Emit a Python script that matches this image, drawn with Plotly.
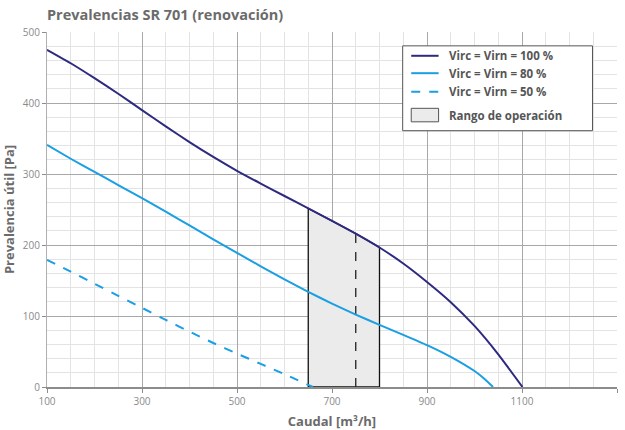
import plotly.graph_objects as go

# Fan curves: airflow [m3/h] vs available pressure [Pa]
q_100 = [100, 150, 200, 250, 300, 350, 400, 450, 500, 550, 600, 650, 700, 750, 800, 850, 900, 950, 1000, 1050, 1101]
p_100 = [475, 456, 435, 413, 390, 367, 345, 324, 304.5, 286.5, 269, 251.5, 234, 216, 196.5, 174, 148, 119.5, 86, 46, 0]

q_80 = [100, 150, 200, 250, 300, 350, 400, 450, 500, 550, 600, 650, 700, 750, 800, 850, 900, 950, 1000, 1020, 1039]
p_80 = [341, 321.5, 303, 284.5, 266, 247, 227.5, 208, 189, 170, 151.5, 134, 117.5, 102, 87.5, 73.5, 59, 42.5, 22.5, 12, 0]

q_50 = [100, 150, 200, 250, 300, 350, 400, 450, 500, 550, 600, 660]
p_50 = [179, 162.5, 145.5, 128.5, 111.5, 94.5, 78, 62, 47, 32.5, 18, 0]

# Operating range (bounded above by the 100 % curve) and nominal point
range_q = [650, 700, 750, 800]
range_p = [251.5, 234, 216, 196.5]
nominal_q = 750
nominal_p = 216

x_ticks = [100, 300, 500, 700, 900, 1100, 1300]
y_ticks = [0, 100, 200, 300, 400, 500]

legend_labels = ["Virc = Virn = 100 %", "Virc = Virn = 80 %", "Virc = Virn = 50 %", "Rango de operación"]

DARK = "#2e2a7f"
BLUE = "#1a9fe3"
TXT = "#6b6b6b"
FONT = "Open Sans"
BOX_FILL = "#ebebeb"

fig = go.Figure()

# Operating range polygon
box_x = [range_q[0]] + range_q + [range_q[-1], range_q[0]]
box_y = [0] + range_p + [0, 0]
fig.add_trace(go.Scatter(
    x=box_x, y=box_y, mode="lines", fill="toself",
    fillcolor=BOX_FILL, line=dict(color="#111111", width=1.3),
    showlegend=False, hoverinfo="skip"))

fig.add_trace(go.Scatter(
    x=[nominal_q, nominal_q], y=[0, nominal_p], mode="lines",
    line=dict(color="#222222", width=1.3, dash="dash"),
    showlegend=False, hoverinfo="skip"))

curve_styles = [
    (q_100, p_100, dict(color=DARK, width=2, shape="spline", smoothing=0.5)),
    (q_80, p_80, dict(color=BLUE, width=2, shape="spline", smoothing=0.5)),
    (q_50, p_50, dict(color=BLUE, width=2, dash="dash", shape="spline", smoothing=0.5)),
]
for (qx, py, ln), lab in zip(curve_styles, legend_labels):
    fig.add_trace(go.Scatter(x=qx, y=py, mode="lines", line=ln, name=lab, showlegend=False))

# Legend panel drawn in paper coordinates
shapes = []
annotations = []
lx0, lx1, ly0, ly1 = 0.624, 0.957, 0.722, 0.961
shapes.append(dict(type="rect", xref="paper", yref="paper", x0=lx0, x1=lx1, y0=ly0, y1=ly1,
                   line=dict(color="#555555", width=1), fillcolor="white", layer="above"))
sym_x0, sym_x1, text_x = 0.639, 0.687, 0.701
row_y = [0.933, 0.884, 0.832, 0.766]
line_keys = [dict(color=DARK, width=2), dict(color=BLUE, width=2), dict(color=BLUE, width=2, dash="dash")]
for yy, lk in zip(row_y[:3], line_keys):
    shapes.append(dict(type="line", xref="paper", yref="paper", x0=sym_x0, x1=sym_x1, y0=yy, y1=yy,
                       line=lk, layer="above"))
shapes.append(dict(type="rect", xref="paper", yref="paper", x0=sym_x0, x1=sym_x1,
                   y0=row_y[3] - 0.019, y1=row_y[3] + 0.019,
                   line=dict(color="#555555", width=1), fillcolor=BOX_FILL, layer="above"))
for yy, lab in zip(row_y, legend_labels):
    annotations.append(dict(xref="paper", yref="paper", x=text_x, y=yy, text="<b>%s</b>" % lab,
                            showarrow=False, xanchor="left", yanchor="middle",
                            font=dict(size=11.5, color="#555555", family=FONT)))

fig.update_layout(
    width=625, height=430,
    margin=dict(l=47, r=8, t=32, b=43),
    paper_bgcolor="white", plot_bgcolor="white",
    font=dict(family=FONT, color=TXT),
    title=dict(text="<b>Prevalencias SR 701 (renovación)</b>", x=0, xref="paper", xanchor="left",
               y=0.965, yanchor="middle", font=dict(size=14.5, color=TXT, family=FONT), pad=dict(l=0)),
    showlegend=False,
    shapes=shapes,
    annotations=annotations,
)

fig.update_xaxes(
    range=[100, 1300], tickvals=x_ticks, ticktext=[str(v) for v in x_ticks],
    showgrid=True, gridcolor="#a8a8a8", gridwidth=1,
    minor=dict(dtick=50, tick0=100, showgrid=True, gridcolor="#e3e3e3", gridwidth=1),
    showline=True, linecolor="#8c8c8c", linewidth=1.5,
    ticks="outside", ticklen=4, tickcolor="#8c8c8c",
    tickfont=dict(size=10, color="#8a8a8a"),
    title=dict(text="<b>Caudal [m³/h]</b>", font=dict(size=13, color=TXT), standoff=12),
    zeroline=False, automargin=False,
)
fig.update_yaxes(
    range=[0, 500], tickvals=y_ticks,
    showgrid=True, gridcolor="#a8a8a8", gridwidth=1,
    minor=dict(dtick=20, tick0=0, showgrid=True, gridcolor="#e3e3e3", gridwidth=1),
    showline=True, linecolor="#b0b0b0", linewidth=1,
    ticks="outside", ticklen=4, tickcolor="#8c8c8c",
    tickfont=dict(size=10, color="#8a8a8a"),
    title=dict(text="<b>Prevalencia útil [Pa]</b>", font=dict(size=13, color=TXT), standoff=6),
    zeroline=False, automargin=False,
)

fig.write_html("out.html")
